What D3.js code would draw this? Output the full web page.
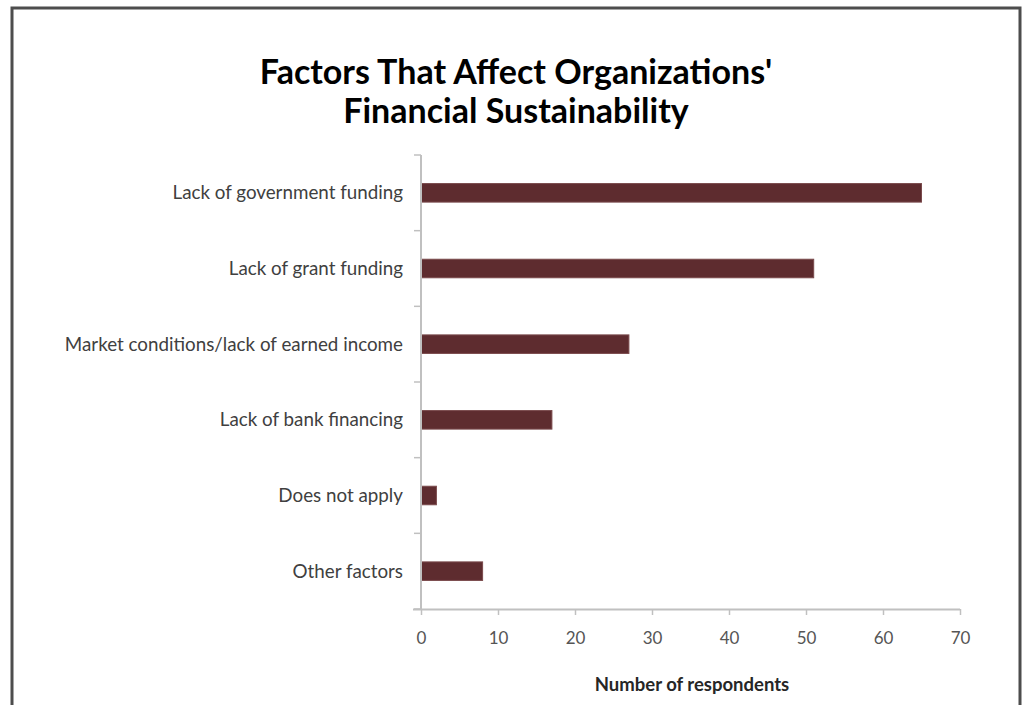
<!DOCTYPE html>
<html>
<head>
<meta charset="utf-8">
<script src="https://cdn.jsdelivr.net/npm/d3@7"></script>
<style>
  html, body { margin: 0; padding: 0; background: #fff; }
  svg { display: block; }
  text { font-family: Lato, "Open Sans", sans-serif; }
</style>
</head>
<body>
<svg id="chart" width="1023" height="705"></svg>
<script>
// Survey responses: factors affecting financial sustainability
const categories = [
  "Lack of government funding",
  "Lack of grant funding",
  "Market conditions/lack of earned income",
  "Lack of bank financing",
  "Does not apply",
  "Other factors"
];
const respondents = [65, 51, 27, 17, 2, 8];
const xTicks = [0, 10, 20, 30, 40, 50, 60, 70];
const titleLines = ["Factors That Affect Organizations'", "Financial Sustainability"];
const xAxisTitle = "Number of respondents";

const svg = d3.select("#chart");

// outer frame
svg.append("path")
  .attr("d", "M12,705 L12,8 L1020,8 L1020,705")
  .attr("fill", "none")
  .attr("stroke", "#4d4d4d")
  .attr("stroke-width", 3);

const plot = { left: 421, right: 960, top: 155, bottom: 609 };

const x = d3.scaleLinear().domain([0, 70]).range([plot.left, plot.right]);
const y = d3.scaleBand()
  .domain(categories)
  .range([plot.top, plot.bottom])
  .paddingInner(0.755)
  .paddingOuter(0.3775);
const yEdges = d3.scaleBand().domain(categories).range([plot.top, plot.bottom]).padding(0);

// title
svg.append("text")
  .attr("text-anchor", "middle")
  .attr("font-weight", "bold")
  .attr("font-size", 34)
  .attr("fill", "#000")
  .selectAll("tspan")
  .data(titleLines)
  .join("tspan")
  .attr("x", 516)
  .attr("y", (d, i) => 84 + i * 39)
  .text(d => d);

// bars
svg.append("g")
  .selectAll("rect")
  .data(categories)
  .join("rect")
  .attr("x", x(0))
  .attr("y", d => y(d))
  .attr("width", (d, i) => x(respondents[i]) - x(0))
  .attr("height", y.bandwidth())
  .attr("fill", "#5e2c2f")
  .attr("stroke", "#7a4a4c")
  .attr("stroke-width", 1);

const axisColor = "#c0c0c0";

// x axis
const xAxis = svg.append("g")
  .attr("transform", `translate(0,${plot.bottom})`)
  .call(d3.axisBottom(x).tickValues(xTicks).tickSize(6).tickSizeOuter(0).tickPadding(17));
xAxis.select(".domain").attr("stroke", axisColor).attr("stroke-width", 2)
  .attr("d", `M${plot.left - 8},0.5H${plot.right}`);
xAxis.selectAll(".tick line").attr("stroke", axisColor).attr("stroke-width", 1.5);
xAxis.selectAll(".tick text")
  .attr("font-size", 17)
  .attr("fill", "#555")
  .style("font-family", "Lato, sans-serif");

// y axis: tick marks at category boundaries
const boundaries = categories.map(c => yEdges(c)).concat([plot.bottom]);
const yAxis = svg.append("g");
yAxis.append("line")
  .attr("x1", plot.left).attr("x2", plot.left)
  .attr("y1", plot.top).attr("y2", plot.bottom)
  .attr("stroke", axisColor).attr("stroke-width", 2);
yAxis.selectAll("line.edge")
  .data(boundaries)
  .join("line")
  .attr("class", "edge")
  .attr("x1", plot.left - 7).attr("x2", plot.left)
  .attr("y1", d => d).attr("y2", d => d)
  .attr("stroke", axisColor).attr("stroke-width", 1.5);

// category labels
yAxis.selectAll("text")
  .data(categories)
  .join("text")
  .attr("x", 403)
  .attr("y", d => y(d) + y.bandwidth() / 2)
  .attr("dy", "0.35em")
  .attr("text-anchor", "end")
  .attr("font-size", 18.8)
  .attr("fill", "#404040")
  .text(d => d);

// x axis title
svg.append("text")
  .attr("x", 692).attr("y", 691)
  .attr("text-anchor", "middle")
  .attr("font-weight", "bold")
  .attr("font-size", 18.5)
  .attr("fill", "#262626")
  .text(xAxisTitle);
</script>
</body>
</html>
